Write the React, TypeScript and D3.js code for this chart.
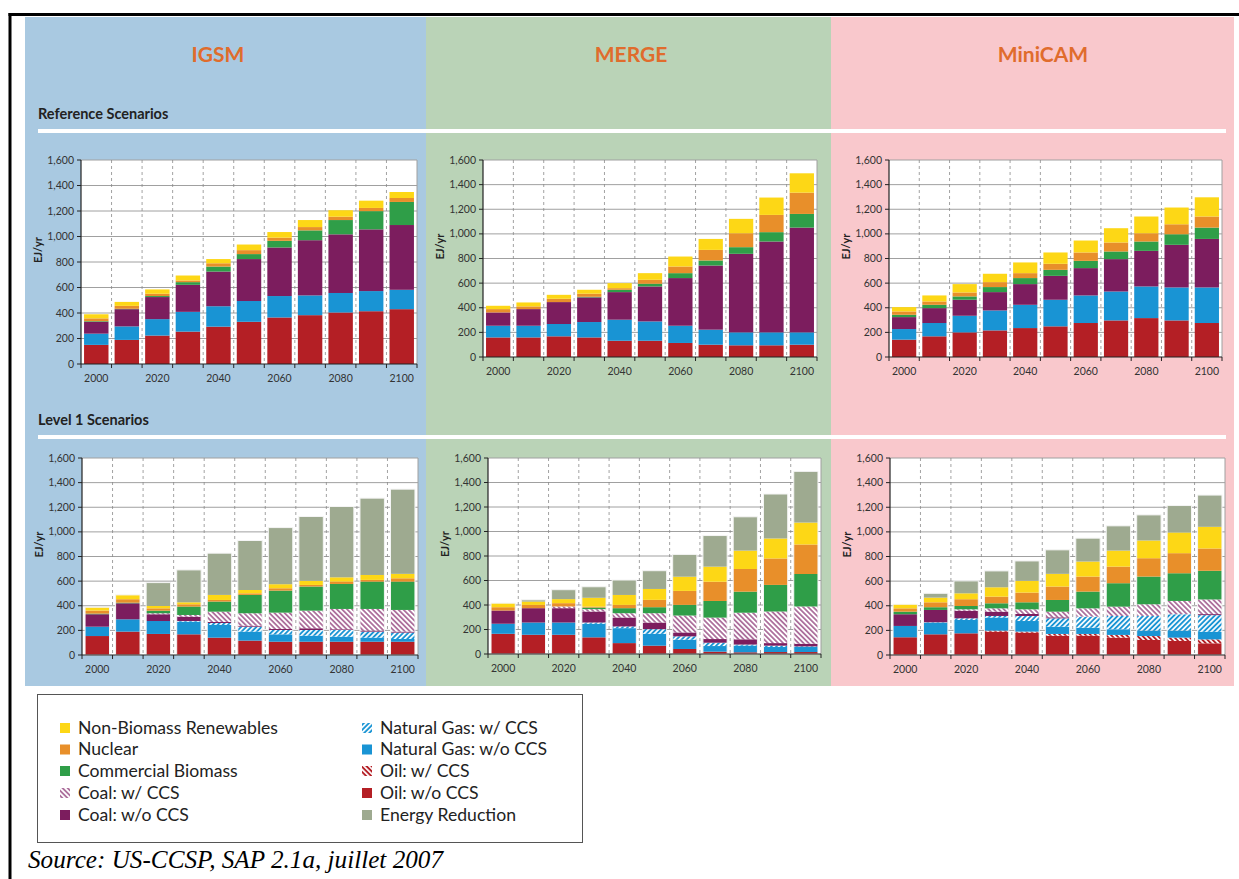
import React from "react";
import * as d3 from "d3";

const YEARS = [2000, 2010, 2020, 2030, 2040, 2050, 2060, 2070, 2080, 2090, 2100];
const Y_TICKS = [0, 200, 400, 600, 800, 1000, 1200, 1400, 1600];
const MODELS = ["IGSM", "MERGE", "MiniCAM"];
const ROW_TITLES = ["Reference Scenarios", "Level 1 Scenarios"];

// Stack order bottom -> top
const SERIES_KEYS = ["oil", "oilCCS", "gas", "gasCCS", "coal", "coalCCS", "bio", "nuc", "ren", "red"];
const SERIES_LABELS: Record<string, string> = {
  ren: "Non-Biomass Renewables",
  nuc: "Nuclear",
  bio: "Commercial Biomass",
  coalCCS: "Coal: w/ CCS",
  coal: "Coal: w/o CCS",
  gasCCS: "Natural Gas: w/ CCS",
  gas: "Natural Gas: w/o CCS",
  oilCCS: "Oil: w/ CCS",
  oil: "Oil: w/o CCS",
  red: "Energy Reduction",
};
const LEGEND_COL1 = ["ren", "nuc", "bio", "coalCCS", "coal"];
const LEGEND_COL2 = ["gasCCS", "gas", "oilCCS", "oil", "red"];

// ---- Data (EJ/yr) ----
const igsmRef = {
  oil: [150, 189, 223, 254, 293, 331, 365, 383, 404, 414, 430],
  gas: [88, 106, 129, 155, 160, 163, 168, 155, 153, 158, 152],
  coal: [93, 135, 173, 212, 272, 329, 381, 433, 460, 484, 508],
  bio: [5, 3, 8, 21, 39, 39, 52, 77, 112, 143, 181],
  nuc: [22, 23, 18, 13, 26, 31, 25, 26, 26, 25, 31],
  ren: [32, 31, 34, 39, 33, 44, 44, 55, 51, 57, 47],
};
const mergeRef = {
  oil: [159, 159, 168, 159, 132, 132, 114, 100, 95, 95, 100],
  gas: [95, 95, 100, 125, 171, 157, 140, 122, 105, 105, 100],
  coal: [108, 135, 178, 200, 224, 284, 387, 521, 638, 738, 851],
  bio: [0, 0, 0, 5, 19, 22, 40, 41, 54, 76, 111],
  nuc: [27, 22, 27, 25, 13, 32, 54, 86, 113, 140, 173],
  ren: [27, 32, 32, 32, 41, 54, 81, 89, 117, 141, 157],
};
const minicamRef = {
  oil: [141, 168, 200, 216, 235, 249, 276, 297, 316, 297, 276],
  gas: [86, 108, 135, 162, 189, 216, 224, 235, 257, 268, 289],
  coal: [97, 121, 130, 149, 168, 194, 222, 263, 289, 346, 394],
  bio: [19, 27, 27, 41, 49, 49, 59, 62, 76, 86, 92],
  nuc: [27, 27, 32, 40, 40, 49, 68, 73, 67, 81, 90],
  ren: [35, 49, 68, 68, 87, 92, 97, 116, 136, 136, 156],
};
const igsmL1 = {
  oil: [154, 190, 171, 168, 141, 117, 108, 108, 108, 108, 108],
  gas: [76, 100, 105, 103, 103, 73, 60, 49, 41, 33, 22],
  gasCCS: [0, 0, 0, 5, 16, 40, 35, 46, 54, 49, 52],
  coal: [101, 130, 55, 36, 8, 8, 8, 14, 6, 8, 8],
  coalCCS: [0, 0, 8, 13, 84, 101, 133, 143, 165, 176, 176],
  bio: [5, 5, 21, 68, 82, 149, 179, 196, 203, 222, 230],
  nuc: [25, 28, 19, 19, 13, 13, 19, 13, 19, 14, 27],
  ren: [27, 35, 19, 16, 41, 27, 33, 33, 35, 40, 36],
  red: [0, 0, 190, 263, 339, 402, 460, 523, 575, 624, 688],
};
const mergeL1 = {
  oil: [165, 157, 157, 136, 89, 68, 41, 19, 14, 16, 16],
  gas: [82, 100, 100, 111, 122, 97, 76, 46, 55, 41, 41],
  gasCCS: [0, 0, 0, 10, 14, 38, 27, 27, 8, 11, 5],
  coal: [108, 117, 117, 90, 73, 54, 32, 30, 43, 21, 22],
  coalCCS: [0, 0, 14, 19, 35, 76, 138, 175, 217, 258, 304],
  bio: [0, 0, 0, 13, 41, 49, 87, 136, 172, 217, 265],
  nuc: [27, 27, 27, 8, 27, 60, 114, 157, 185, 216, 241],
  ren: [33, 27, 33, 72, 81, 89, 116, 123, 150, 163, 179],
  red: [0, 14, 77, 90, 122, 149, 182, 254, 276, 363, 418],
};
const minicamL1 = {
  oil: [144, 168, 176, 190, 182, 157, 157, 141, 122, 114, 95],
  oilCCS: [0, 0, 0, 8, 8, 14, 14, 22, 32, 27, 32],
  gas: [92, 95, 109, 106, 86, 59, 51, 46, 44, 57, 62],
  gasCCS: [0, 3, 13, 13, 41, 68, 90, 108, 119, 133, 135],
  coal: [95, 100, 62, 35, 16, 8, 0, 0, 0, 0, 8],
  coalCCS: [0, 0, 11, 27, 38, 46, 67, 76, 95, 108, 119],
  bio: [21, 22, 27, 41, 57, 95, 136, 190, 225, 225, 233],
  nuc: [27, 40, 55, 54, 79, 109, 122, 135, 149, 163, 181],
  ren: [33, 38, 48, 76, 95, 103, 122, 130, 144, 168, 176],
  red: [0, 35, 101, 133, 162, 195, 190, 201, 208, 219, 258],
};

// ---- Styles ----
const COLORS: Record<string, string> = {
  ren: "#fdd716",
  nuc: "#e88f2a",
  bio: "#2f9e48",
  coal: "#7c1d5e",
  coalCCS: "#8e3a78",
  gas: "#1994d4",
  gasCCS: "#1994d4",
  oil: "#b41f25",
  oilCCS: "#b41f25",
  red: "#9eaa90",
};
const PATTERNED: Record<string, { id: string; angle: number; w: number }> = {
  coalCCS: { id: "pat-coal", angle: -45, w: 1.3 },
  gasCCS: { id: "pat-gas", angle: 45, w: 1.9 },
  oilCCS: { id: "pat-oil", angle: -45, w: 1.9 },
};
const BG = ["#a9c9e1", "#bad3b7", "#f9c8cc"];
const TITLE_COLOR = "#e06c2c";

const PANEL_DATA = [
  [igsmRef, mergeRef, minicamRef],
  [igsmL1, mergeL1, minicamL1],
];
const PANEL_LAYOUT = [
  [
    { x0: 81, x1: 417, yTop: 160, yBot: 364 },
    { x0: 483, x1: 817, yTop: 160, yBot: 357 },
    { x0: 889, x1: 1222, yTop: 160, yBot: 357 },
  ],
  [
    { x0: 82, x1: 418, yTop: 458, yBot: 655 },
    { x0: 488, x1: 821, yTop: 458, yBot: 654 },
    { x0: 890, x1: 1225, yTop: 458, yBot: 655 },
  ],
];
const COL_BOUNDS = [25, 426, 831, 1234];
const TITLE_X = [218, 631, 1043];

const fmt = d3.format(",");
const TICK_FONT = "Lato, 'Open Sans', sans-serif";

function fillFor(key: string) {
  return PATTERNED[key] ? `url(#${PATTERNED[key].id})` : COLORS[key];
}

function Panel({ data, layout, level }: any) {
  const { x0, x1, yTop, yBot } = layout;
  const x = d3.scaleBand<number>().domain(YEARS).range([x0, x1]).paddingInner(0.2).paddingOuter(0.1);
  const y = d3.scaleLinear().domain([0, 1600]).range([yBot, yTop]);
  const rows = YEARS.map((yr, i) => {
    const r: any = { year: yr };
    SERIES_KEYS.forEach((k) => (r[k] = data[k] ? data[k][i] : 0));
    return r;
  });
  const stacked = d3.stack<any>().keys(SERIES_KEYS)(rows);
  const step = x.step();
  const bounds = d3.range(YEARS.length + 1).map((i) => x0 + i * step);
  return (
    <g>
      <rect x={x0} y={yTop} width={x1 - x0} height={yBot - yTop} fill="#fff" />
      {Y_TICKS.filter((t) => t > 0).map((t) => (
        <line key={t} x1={x0} x2={x1} y1={y(t)} y2={y(t)} stroke="#a0a0a0" strokeWidth={1} />
      ))}
      {bounds.slice(1, -1).map((b, i) => (
        <line key={i} x1={b} x2={b} y1={yTop} y2={yBot} stroke="#8a8a8a" strokeWidth={0.8} strokeDasharray="3,3" />
      ))}
      <line x1={x1} x2={x1} y1={yTop} y2={yBot} stroke="#a0a0a0" strokeWidth={1} />
      {stacked.map((s) => (
        <g key={s.key}>
          {s.map((d, i) => {
            const h = y(d[0]) - y(d[1]);
            if (h <= 0.01) return null;
            return (
              <rect
                key={i}
                x={x(YEARS[i])}
                y={y(d[1])}
                width={x.bandwidth()}
                height={h}
                fill={fillFor(s.key as string)}
              />
            );
          })}
        </g>
      ))}
      {level === 1 &&
        YEARS.map((yr, i) => {
          const top = stacked[stacked.length - 1][i][1];
          return (
            <rect
              key={yr}
              x={x(yr)}
              y={y(top)}
              width={x.bandwidth()}
              height={yBot - y(top)}
              fill="none"
              stroke="#f4f4f4"
              strokeWidth={1}
            />
          );
        })}
      {/* axes */}
      <line x1={x0} x2={x0} y1={yTop} y2={yBot} stroke="#222" strokeWidth={1.2} />
      <line x1={x0} x2={x1} y1={yBot} y2={yBot} stroke="#222" strokeWidth={1.2} />
      {Y_TICKS.map((t) => (
        <g key={t}>
          <line x1={x0 - 4} x2={x0} y1={y(t)} y2={y(t)} stroke="#222" strokeWidth={1} />
          <text
            x={x0 - 7}
            y={y(t) + 3.6}
            textAnchor="end"
            fontSize={10.5}
            fontFamily={TICK_FONT}
            fill="#333"
          >
            {fmt(t)}
          </text>
        </g>
      ))}
      {bounds.map((b, i) => (
        <line key={i} x1={b} x2={b} y1={yBot} y2={yBot + 4} stroke="#222" strokeWidth={1} />
      ))}
      {YEARS.map((yr, i) =>
        i % 2 === 0 ? (
          <text
            key={yr}
            x={(x(yr) as number) + x.bandwidth() / 2}
            y={yBot + 18}
            textAnchor="middle"
            fontSize={10.5}
            fontFamily={TICK_FONT}
            fill="#333"
          >
            {yr}
          </text>
        ) : null
      )}
      <text
        transform={`translate(${x0 - 39},${(yTop + yBot) / 2 - 12}) rotate(-90)`}
        textAnchor="middle"
        fontSize={11}
        fontWeight="bold"
        fontFamily={TICK_FONT}
        fill="#222"
      >
        EJ/yr
      </text>
    </g>
  );
}

function LegendIcon({ k, x, y }: any) {
  return <rect x={x} y={y - 5} width={10} height={10} fill={fillFor(k)} />;
}

export default function App() {
  const legendRowY = [728, 749.5, 771, 793, 815];
  return (
    <svg
      width={1239}
      height={879}
      style={{ position: "absolute", left: 0, top: 0, background: "#fff" }}
    >
      <defs>
        {Object.entries(PATTERNED).map(([k, p]) => (
          <pattern
            key={k}
            id={p.id}
            patternUnits="userSpaceOnUse"
            width={3.6}
            height={3.6}
            patternTransform={`rotate(${p.angle})`}
          >
            <rect width={3.6} height={3.6} fill="#fff" />
            <line x1={1.8} y1={0} x2={1.8} y2={3.6} stroke={COLORS[k]} strokeWidth={p.w} />
          </pattern>
        ))}
      </defs>

      {/* frame */}
      <line x1={8.5} x2={1239} y1={14.5} y2={14.5} stroke="#000" strokeWidth={3} />
      <line x1={10} x2={10} y1={13} y2={879} stroke="#000" strokeWidth={3} />

      {/* column backgrounds */}
      {MODELS.map((m, i) => (
        <rect
          key={m}
          x={COL_BOUNDS[i]}
          y={17}
          width={COL_BOUNDS[i + 1] - COL_BOUNDS[i]}
          height={686 - 17}
          fill={BG[i]}
        />
      ))}
      {MODELS.map((m, i) => (
        <text
          key={m}
          x={TITLE_X[i]}
          y={62}
          textAnchor="middle"
          fontSize={21}
          fontWeight="bold"
          fontFamily={TICK_FONT}
          fill={TITLE_COLOR}
        >
          {m}
        </text>
      ))}

      {/* row titles and separators */}
      {ROW_TITLES.map((t, r) => (
        <g key={t}>
          <text
            x={38}
            y={r === 0 ? 119 : 425}
            fontSize={14.5}
            fontWeight="bold"
            fontFamily={TICK_FONT}
            fill="#222"
          >
            {t}
          </text>
          <line
            x1={38}
            x2={1226}
            y1={r === 0 ? 131 : 437}
            y2={r === 0 ? 131 : 437}
            stroke="#fff"
            strokeWidth={4}
          />
        </g>
      ))}

      {PANEL_DATA.map((row, r) =>
        row.map((data, c) => (
          <Panel key={`${r}-${c}`} data={data} layout={PANEL_LAYOUT[r][c]} level={r} />
        ))
      )}

      {/* legend */}
      <rect x={37.5} y={694.5} width={545} height={148} fill="#fff" stroke="#555" strokeWidth={1} />
      {LEGEND_COL1.map((k, i) => (
        <g key={k}>
          <LegendIcon k={k} x={60} y={legendRowY[i]} />
          <text x={78} y={legendRowY[i] + 5.8} fontSize={17.6} fontFamily={TICK_FONT} fill="#222">
            {SERIES_LABELS[k]}
          </text>
        </g>
      ))}
      {LEGEND_COL2.map((k, i) => (
        <g key={k}>
          <LegendIcon k={k} x={362} y={legendRowY[i]} />
          <text x={380} y={legendRowY[i] + 5.8} fontSize={17.6} fontFamily={TICK_FONT} fill="#222">
            {SERIES_LABELS[k]}
          </text>
        </g>
      ))}

      <text
        x={28}
        y={868}
        fontSize={24.5}
        fontStyle="italic"
        textLength={415}
        lengthAdjust="spacingAndGlyphs"
        fontFamily="'Liberation Serif', 'Times New Roman', serif"
        fill="#000"
      >
        Source: US-CCSP, SAP 2.1a, juillet 2007
      </text>
    </svg>
  );
}
